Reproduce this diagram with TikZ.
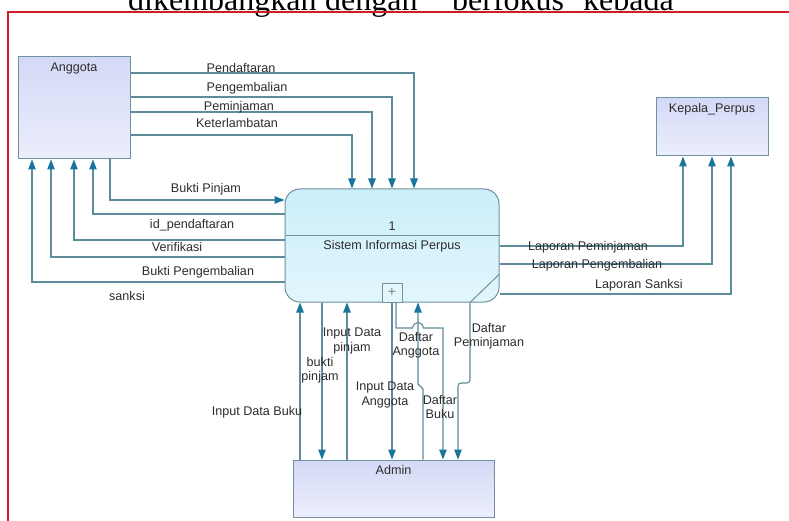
\documentclass[tikz,border=0pt]{standalone}
\usepackage{fontspec}
\setmainfont{Liberation Serif}
\newfontfamily\dfdfont{Liberation Sans}
\usetikzlibrary{arrows.meta}
\definecolor{flowline}{RGB}{95,140,155}
\definecolor{flowtip}{RGB}{24,118,158}
\definecolor{boxline}{RGB}{112,145,158}
\definecolor{entitytop}{RGB}{212,217,246}
\definecolor{entitybot}{RGB}{236,238,252}
\definecolor{proctop}{RGB}{203,239,250}
\definecolor{procbot}{RGB}{226,246,252}
\definecolor{pagered}{RGB}{205,30,40}
\definecolor{labeltext}{RGB}{45,45,45}
\tikzset{
  flow/.style={draw=flowline, line width=1.1pt, -{Triangle[length=10pt,width=7.5pt,color=flowtip]}},
  entity/.style={draw=boxline, line width=1pt, top color=entitytop, bottom color=entitybot, inner sep=0pt},
  process/.style={draw=boxline, line width=1pt, rounded corners=15pt, top color=proctop, bottom color=procbot, inner sep=0pt},
  flowlabel/.style={font=\dfdfont\fontsize{12.6}{14.5}\selectfont, text=labeltext, inner sep=0pt, align=center},
  boxtitle/.style={flowlabel, anchor=north, yshift=-6pt},
}
\begin{document}
\begin{tikzpicture}[x=1pt, y=-1pt]
        \clip (0,0) rectangle (789,521);
        \fill[white] (0,0) rectangle (789,521);
        \node[anchor=base west, inner sep=0pt, font=\fontsize{32}{34}\selectfont] (w1) at (128,10.5) {dikembangkan};
        \node[anchor=base west, inner sep=0pt, font=\fontsize{32}{34}\selectfont] (w2) at (325,10.5) {dengan};
        \node[anchor=base west, inner sep=0pt, font=\fontsize{32}{34}\selectfont] (w3) at (452,10.5) {berfokus};
        \node[anchor=base west, inner sep=0pt, font=\fontsize{32}{34}\selectfont] (w4) at (583,10.5) {kebada};
        \draw[pagered, line width=1.3pt] (8,521) -- (8,12) -- (789,12);

        \node[entity, minimum width=112pt, minimum height=102pt] (anggota) at (74,108) {};
        \node[entity, minimum width=112pt, minimum height=58pt] (kepala) at (712,127) {};
        \node[entity, minimum width=201pt, minimum height=57pt] (admin) at (393.5,488.5) {};
        \node[process, minimum width=214pt, minimum height=113pt] (proses) at (392,245.5) {};
        \node[boxtitle] (tAnggota) at (anggota.north) {Anggota};
        \node[boxtitle] (tKepala) at (kepala.north) {Kepala\_Perpus};
        \node[boxtitle] (tAdmin) at (admin.north) {Admin};
        \draw[boxline, line width=1pt] (proses.west |- 0,236) -- (proses.east |- 0,236);
        \draw[boxline, line width=1pt] (proses.south -| 470,0) -- (proses.east |- 0,274);
        \node[flowlabel] (tNomor) at (392,226) {1};
        \node[flowlabel] (tProses) at (392,246) {Sistem Informasi Perpus};
        \node[draw=boxline, line width=1pt, fill=procbot, minimum width=20pt, minimum height=19pt, inner sep=0pt, anchor=south, text=gray, font=\dfdfont\fontsize{14}{14}\selectfont] (plus) at (proses.south) {+};

        \draw[flow] (anggota.east |- 0,73) -| (proses.north -| 414,0);
        \draw[flow] (anggota.east |- 0,97) -| (proses.north -| 392,0);
        \draw[flow] (anggota.east |- 0,112) -| (proses.north -| 372,0);
        \draw[flow] (anggota.east |- 0,135) -| (proses.north -| 352,0);
        \draw[flow] (anggota.south -| 110,0) |- (proses.west |- 0,200);
        \draw[flow] (proses.west |- 0,214) -| (anggota.south -| 93,0);
        \draw[flow] (proses.west |- 0,240) -| (anggota.south -| 74,0);
        \draw[flow] (proses.west |- 0,257) -| (anggota.south -| 51,0);
        \draw[flow] (proses.west |- 0,282) -| (anggota.south -| 32,0);
        \draw[flow] (proses.east |- 0,246) -| (kepala.south -| 683,0);
        \draw[flow] (proses.east |- 0,264) -| (kepala.south -| 712,0);
        \draw[flow] (proses.east |- 0,294) -| (kepala.south -| 731,0);

        \draw[flow] (admin.north -| 300,0) -- (proses.south -| 300,0);
        \draw[flow] (proses.south -| 322,0) -- (admin.north -| 322,0);
        \draw[flow] (admin.north -| 347,0) -- (proses.south -| 347,0);
        \draw[flow] (plus.south) -- (plus.south |- admin.north);
        \draw[flow] (admin.north -| 423,0) -- (423,389) -- (418,384) -- (proses.south -| 418,0);
        \draw[flow] (proses.south -| 396,0) -- (396,328) -- (412.5,328) arc[start angle=180, end angle=0, radius=5.5pt] -- (443,328) -- (admin.north -| 443,0);
        \draw[flow, rounded corners=3pt] (proses.south -| 470,0) -- (470,383) -- (458,383) -- (admin.north -| 458,0);

        \node[flowlabel] (lPendaftaran) at (241,68) {Pendaftaran};
        \node[flowlabel] (lPengembalian) at (247,88) {Pengembalian};
        \node[flowlabel] (lPeminjaman) at (239,107) {Peminjaman};
        \node[flowlabel] (lKeterlambatan) at (237,123) {Keterlambatan};
        \node[flowlabel] (lBuktiPinjam) at (206,189) {Bukti Pinjam};
        \node[flowlabel] (lIdDaftar) at (192,225) {id\_pendaftaran};
        \node[flowlabel] (lVerifikasi) at (177,247) {Verifikasi};
        \node[flowlabel] (lBuktiKembali) at (198,272) {Bukti Pengembalian};
        \node[flowlabel] (lSanksi) at (127,296) {sanksi};
        \node[flowlabel] (lLapPinjam) at (588,247) {Laporan Peminjaman};
        \node[flowlabel] (lLapKembali) at (597,265) {Laporan Pengembalian};
        \node[flowlabel] (lLapSanksi) at (639,285) {Laporan Sanksi};
        \node[flowlabel] (lInputBuku) at (257,412) {Input Data Buku};
        \node[flowlabel] (lBuktiPinjam2) at (320,370) {bukti\\pinjam};
        \node[flowlabel] (lInputPinjam) at (352,341) {Input Data\\pinjam};
        \node[flowlabel] (lInputAnggota) at (385,395) {Input Data\\Anggota};
        \node[flowlabel] (lDaftarAnggota) at (416,345) {Daftar\\Anggota};
        \node[flowlabel] (lDaftarBuku) at (440,407) {Daftar\\Buku};
        \node[flowlabel] (lDaftarPinjam) at (489,336) {Daftar\\Peminjaman};
    \end{tikzpicture}
\end{document}
